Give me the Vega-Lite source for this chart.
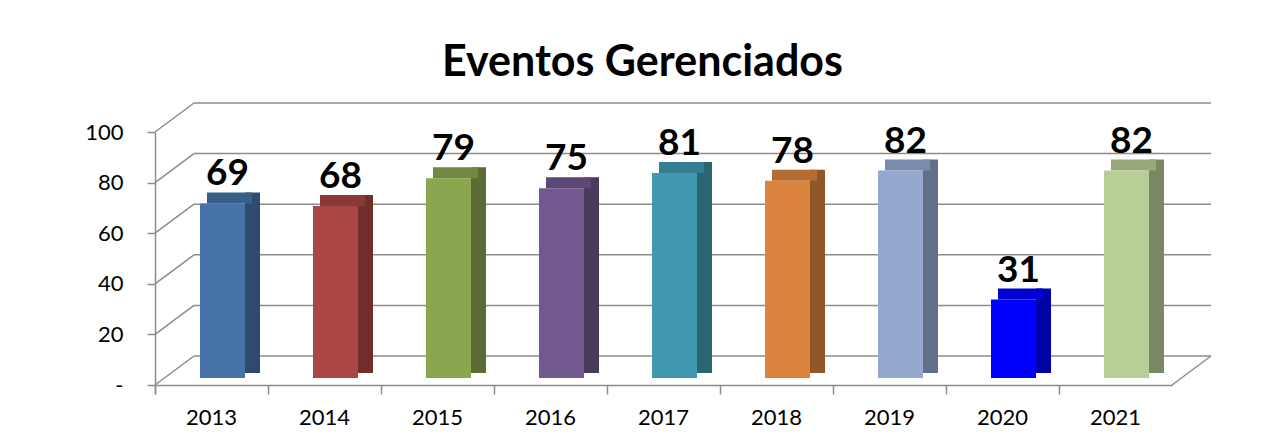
{
  "$schema": "https://vega.github.io/schema/vega-lite/v6.json",
  "width": 1017,
  "height": 253,
  "autosize": "none",
  "padding": {"left": 155, "top": 132, "right": 93, "bottom": 51},
  "background": "white",
  "title": {
    "text": "Eventos Gerenciados",
    "font": "Lato",
    "fontSize": 43,
    "fontWeight": "bold",
    "color": "black",
    "anchor": "middle",
    "frame": "group",
    "baseline": "alphabetic",
    "dx": -21,
    "dy": 31,
    "offset": 14
  },
  "config": {
    "view": {"stroke": null},
    "font": "Lato",
    "axisY": {
      "grid": false,
      "domainColor": "#8c8c8c",
      "domainWidth": 1.5,
      "tickColor": "#8c8c8c",
      "tickWidth": 1.5,
      "tickSize": 8,
      "labelFont": "Lato",
      "labelFontSize": 22,
      "labelColor": "black",
      "labelPadding": 24,
      "values": [0, 20, 40, 60, 80, 100],
      "labelExpr": "datum.value == 0 ? '-' : datum.label",
      "title": null
    },
    "axisX": {
      "grid": false,
      "domainColor": "#8c8c8c",
      "domainWidth": 1.5,
      "tickColor": "#8c8c8c",
      "tickWidth": 1.5,
      "tickSize": 9,
      "bandPosition": 0,
      "tickExtra": true,
      "labelFont": "Lato",
      "labelFontSize": 22,
      "labelColor": "black",
      "labelPadding": 13,
      "labelAngle": 0,
      "title": null
    }
  },
  "datasets": {
    "events": [
      {"ano": "2013", "eventos": 69},
      {"ano": "2014", "eventos": 68},
      {"ano": "2015", "eventos": 79},
      {"ano": "2016", "eventos": 75},
      {"ano": "2017", "eventos": 81},
      {"ano": "2018", "eventos": 78},
      {"ano": "2019", "eventos": 82},
      {"ano": "2020", "eventos": 31},
      {"ano": "2021", "eventos": 82}
    ],
    "grid": [{"v": 0}, {"v": 20}, {"v": 40}, {"v": 60}, {"v": 80}, {"v": 100}],
    "floor": [{"v": 0}]
  },
  "layer": [
    {
      "layer": [
        {
          "data": {"name": "grid"},
          "mark": {"type": "rule", "color": "#8c8c8c", "strokeWidth": 1.5, "xOffset": 39, "x2Offset": 39, "yOffset": -29},
          "encoding": {
            "x": {"datum": 0, "type": "quantitative", "scale": {"domain": [0, 1]}, "axis": null},
            "x2": {"datum": 1},
            "y": {"field": "v", "type": "quantitative", "scale": {"domain": [0, 100]},
                  "axis": {"encode": {"labels": {"update": {"dx": {"signal": "datum.value == 0 ? -13 : 0"}}}}}}
          }
        },
        {
          "data": {"name": "grid"},
          "mark": {"type": "rule", "color": "#8c8c8c", "strokeWidth": 1.5, "x2Offset": 39, "y2Offset": -29},
          "encoding": {
            "x": {"datum": 0, "type": "quantitative", "scale": {"domain": [0, 1]}, "axis": null},
            "x2": {"datum": 0},
            "y": {"field": "v", "type": "quantitative", "scale": {"domain": [0, 100]}},
            "y2": {"field": "v"}
          }
        },
        {
          "data": {"name": "floor"},
          "mark": {"type": "rule", "color": "#8c8c8c", "strokeWidth": 1.5, "x2Offset": 39, "y2Offset": -29},
          "encoding": {
            "x": {"datum": 1, "type": "quantitative", "scale": {"domain": [0, 1]}, "axis": null},
            "x2": {"datum": 1},
            "y": {"field": "v", "type": "quantitative", "scale": {"domain": [0, 100]}},
            "y2": {"field": "v"}
          }
        }
      ]
    },
    {
      "data": {"name": "events"},
      "layer": [
        {
          "mark": {"type": "bar", "size": 15, "xOffset": 41, "yOffset": -18, "y2Offset": -12},
          "encoding": {
            "x": {"field": "ano", "type": "nominal", "scale": {"paddingInner": 0, "paddingOuter": 0}},
            "y": {"field": "eventos", "type": "quantitative", "scale": {"domain": [0, 100]}},
            "y2": {"datum": 0},
            "color": {
              "field": "ano", "type": "nominal", "legend": null,
              "scale": {"domain": ["2013","2014","2015","2016","2017","2018","2019","2020","2021"],
                        "range": ["#2E4B6F","#702E2D","#5B6D34","#4A3A5E","#2B6574","#905728","#626F89","#0000A8","#7A8763"]}
            }
          }
        },
        {
          "mark": {"type": "bar", "size": 45, "xOffset": 18, "yOffset": -18, "y2Offset": -7},
          "encoding": {
            "x": {"field": "ano", "type": "nominal", "scale": {"paddingInner": 0, "paddingOuter": 0}},
            "y": {"field": "eventos", "type": "quantitative", "scale": {"domain": [0, 100]}},
            "y2": {"field": "eventos"},
            "color": {
              "field": "ano", "type": "nominal", "legend": null,
              "scale": {"domain": ["2013","2014","2015","2016","2017","2018","2019","2020","2021"],
                        "range": ["#3A5E8A","#8B3A38","#718841","#5D4875","#357D90","#B46C32","#7A8BAB","#0000D1","#98A87B"]}
            }
          }
        },
        {
          "mark": {"type": "bar", "size": 45, "xOffset": 11, "yOffset": -7, "y2Offset": -7},
          "encoding": {
            "x": {"field": "ano", "type": "nominal", "scale": {"paddingInner": 0, "paddingOuter": 0}},
            "y": {"field": "eventos", "type": "quantitative", "scale": {"domain": [0, 100]}},
            "y2": {"datum": 0},
            "color": {
              "field": "ano", "type": "nominal", "legend": null,
              "scale": {"domain": ["2013","2014","2015","2016","2017","2018","2019","2020","2021"],
                        "range": ["#4672A8","#AA4644","#8AA64F","#71588F","#4199B0","#DB843D","#95A9D0","#0000FF","#B9CD96"]}
            }
          }
        },
        {
          "mark": {"type": "text", "font": "Lato", "fontSize": 37, "fontWeight": "bold", "color": "black", "baseline": "alphabetic", "align": "center", "xOffset": 16, "yOffset": -25},
          "encoding": {
            "x": {"field": "ano", "type": "nominal", "scale": {"paddingInner": 0, "paddingOuter": 0}},
            "y": {"field": "eventos", "type": "quantitative", "scale": {"domain": [0, 100]}},
            "text": {"field": "eventos", "type": "quantitative"}
          }
        }
      ],
      "resolve": {"scale": {"color": "independent"}}
    }
  ],
  "resolve": {"scale": {"x": "independent", "color": "independent"}, "axis": {"x": "independent"}}
}
